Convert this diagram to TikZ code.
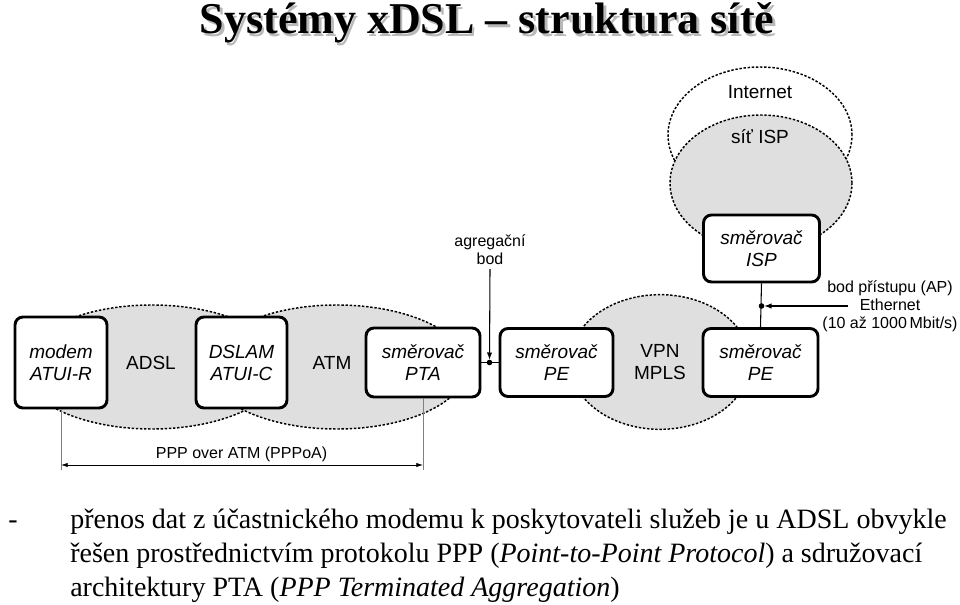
\documentclass[tikz,border=0pt]{standalone}
\usepackage{fontspec}
\setmainfont{Liberation Serif}
\setsansfont{Liberation Sans}
\usetikzlibrary{shapes.geometric,arrows.meta}
\begin{document}
\begin{tikzpicture}[x=0.75pt,y=-0.75pt,
  box/.style={draw, line width=2.2pt, rounded corners=6pt, fill=white, inner sep=0pt, align=center,
    font=\sffamily\itshape\fontsize{14.25}{16.5}\selectfont},
  cloud/.style={ellipse, draw, dash pattern=on 1.8pt off 1.3pt, line width=1.1pt, fill=gray!25, inner sep=0pt},
  lbl/.style={font=\sffamily\fontsize{14.25}{16.5}\selectfont, align=center, inner sep=0pt},
  smalllbl/.style={font=\sffamily\fontsize{12}{13.5}\selectfont, align=center, inner sep=0pt},
  conn/.style={line width=0.8pt},
  tip/.style={-{Latex[length=5.5pt,width=4pt]}, line width=0.8pt, shorten >=2pt},
  dimline/.style={draw=gray, line width=0.4pt},
  titlefont/.style={font=\bfseries\fontsize{33}{38}\selectfont, anchor=base, inner sep=0pt},
  bodytext/.style={font=\fontsize{21}{24}\selectfont, anchor=base west, inner sep=0pt}
]
\useasboundingbox (0,0) rectangle (960,605);

% title with shadow
\node[titlefont, text=gray!55] (titleshadow) at (489.5,36.5) {Systémy xDSL – struktura sítě};
\node[titlefont] (title) at (487,34) {Systémy xDSL – struktura sítě};

% clouds
\node[cloud, fill=white, minimum width=138pt, minimum height=102pt] (internet) at (760,135) {};
\node[cloud, minimum width=136.5pt, minimum height=102pt] (ispnet) at (761,183) {};
\node[cloud, minimum width=195pt, minimum height=93pt] (adsl) at (152,367) {};
\node[cloud, minimum width=195pt, minimum height=93pt] (atm) at (337,367) {};
\node[cloud, minimum width=135pt, minimum height=101pt] (vpn) at (660,362) {};

\node[lbl] (internetlbl) at (760,92) {Internet};
\node[lbl] (isplbl) at (760,137) {síť ISP};
\node[lbl] (adsllbl) at (151,363) {ADSL};
\node[lbl] (atmlbl) at (332,363) {ATM};
\node[lbl] (vpnlbl) at (660,362) {VPN\\MPLS};

% boxes
\node[box, minimum width=69pt, minimum height=68.25pt] (modem) at (61,362.5) {modem\\ATUI-R};
\node[box, minimum width=68.25pt, minimum height=68.25pt] (dslam) at (241.5,362.5) {DSLAM\\ATUI-C};
\node[box, minimum width=85.5pt, minimum height=51.75pt] (pta) at (423,362.5) {směrovač\\PTA};
\node[box, minimum width=84.75pt, minimum height=51pt] (pel) at (556.5,362.5) {směrovač\\PE};
\node[box, minimum width=86.25pt, minimum height=51pt] (per) at (760.5,362.5) {směrovač\\PE};
\node[box, minimum width=87pt, minimum height=50.25pt] (isp) at (761.5,248.5) {směrovač\\ISP};

% aggregation point
\draw[conn] (pta.east) -- (pel.west);
\coordinate (agg) at (489.5,362.5);
\fill (agg) circle (2.1pt);
\node[smalllbl] (agglbl) at (490,250) {agregační\\bod};
\draw[tip] ([yshift=-3pt]agglbl.south) -- (agg);

% access point
\draw[conn] (isp.south) -- (per.north);
\coordinate (ap) at (761.5,306);
\fill (ap) circle (2.1pt);
\node[smalllbl] (aplbl) at (890,306) {bod přístupu (AP)\\Ethernet\\(10 až 1000\,Mbit/s)};
\coordinate (apstart) at (848,306);
\draw[tip] (apstart) -- (ap);

% PPPoA dimension
\coordinate (dimL) at (modem.south |- 0,465);
\coordinate (dimR) at (pta.south |- 0,465);
\draw[dimline] (modem.south) -- ([yshift=-3.5pt]dimL);
\draw[dimline] (pta.south) -- ([yshift=-3.5pt]dimR);
\draw[{Latex[length=5pt,width=3.2pt]}-{Latex[length=5pt,width=3.2pt]}, line width=0.5pt] (dimL) -- (dimR);
\node[smalllbl, anchor=south] (pppoa) at (241.5,462) {PPP over ATM (PPPoA)};

% body text
\node[bodytext] (dash) at (8,528) {-};
\node[bodytext] (line1) at (70,528) {přenos dat z účastnického modemu k poskytovateli služeb je u ADSL obvykle};
\node[bodytext] (line2) at (70,562) {řešen prostřednictvím protokolu PPP (\textit{Point-to-Point Protocol}) a sdružovací};
\node[bodytext] (line3) at (70,596) {architektury PTA (\textit{PPP Terminated Aggregation})};
\end{tikzpicture}
\end{document}
